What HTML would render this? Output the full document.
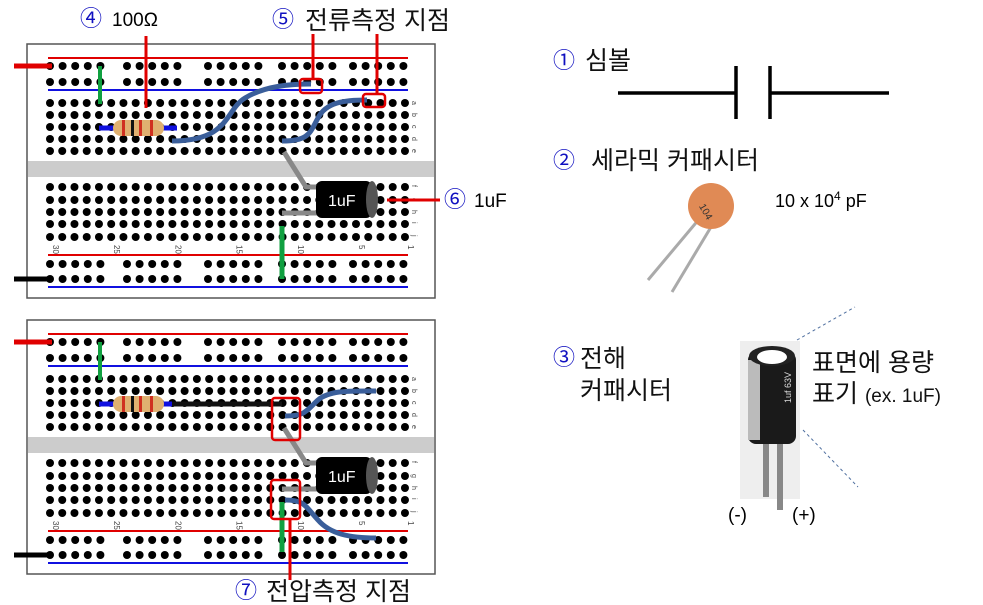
<!DOCTYPE html>
<html><head><meta charset="utf-8"><style>
body{margin:0;background:#fff;width:983px;height:605px;overflow:hidden}
svg{display:block}
text{font-family:"Liberation Sans","Noto Sans CJK KR",sans-serif}
.k{font-size:25px;fill:#111}
.c{fill:#1010c0;font-size:22px}
</style></head><body>
<svg id="s" width="983" height="605" viewBox="0 0 983 605">
<g id="boards"></g>
<text x="80" y="26" class="c" font-size="20">④</text>
<text x="112" y="26" font-size="19">100Ω</text>
<line x1="146" y1="36" x2="146" y2="108" stroke="#e00000" stroke-width="3"/>
<text x="272" y="27" class="c">⑤</text>
<text x="305" y="29" class="k">전류측정 지점</text>
<line x1="313" y1="34" x2="313" y2="79" stroke="#e00000" stroke-width="3"/>
<line x1="377" y1="34" x2="377" y2="94" stroke="#e00000" stroke-width="3"/>
<line x1="387" y1="200" x2="440" y2="200" stroke="#e00000" stroke-width="3"/>
<text x="444" y="207" class="c" font-size="20">⑥</text>
<text x="474" y="207" font-size="19">1uF</text>
<line x1="290" y1="519" x2="290" y2="580" stroke="#e00000" stroke-width="3"/>
<text x="235" y="598" class="c">⑦</text>
<text x="266" y="600" class="k">전압측정 지점</text>
<text x="553" y="68" class="c">①</text>
<text x="585" y="69" class="k">심볼</text>
<g stroke="#000" stroke-width="3.5">
<line x1="618" y1="93" x2="736" y2="93"/><line x1="736" y1="66" x2="736" y2="119"/>
<line x1="770" y1="66" x2="770" y2="119"/><line x1="770" y1="93" x2="889" y2="93"/></g>
<text x="553" y="168" class="c">②</text>
<text x="591" y="169" class="k">세라믹 커패시터</text>
<g>
<line x1="700" y1="218" x2="648" y2="280" stroke="#aaa" stroke-width="3"/>
<line x1="714" y1="222" x2="672" y2="292" stroke="#aaa" stroke-width="3"/>
<circle cx="711" cy="206" r="23" fill="#e08a55"/>
<text x="700" y="216" font-size="10" fill="#333" transform="rotate(60 708 210)">104</text></g>
<text x="775" y="207" font-size="18">10 x 10<tspan dy="-7" font-size="12">4</tspan><tspan dy="7"> pF</tspan></text>
<text x="553" y="365" class="c">③</text>
<text x="580" y="367" class="k">전해</text>
<text x="580" y="399" class="k">커패시터</text>
<g>
<rect x="740" y="341" width="60" height="158" fill="#eeeeee"/>
<rect x="763" y="440" width="6" height="57" fill="#888"/>
<rect x="777" y="440" width="6" height="70" fill="#888"/>
<rect x="748" y="352" width="48" height="92" rx="8" fill="#1a1a1a"/>
<rect x="748" y="360" width="12" height="80" fill="#bbb"/>
<ellipse cx="772" cy="356" rx="23" ry="10" fill="#222"/>
<ellipse cx="772" cy="357" rx="15" ry="7" fill="#fff"/>
<text x="780" y="418" font-size="9" fill="#ddd" transform="rotate(-90 778 405)">1uf 63V</text></g>
<line x1="797" y1="340" x2="855" y2="307" stroke="#5070a0" stroke-dasharray="3,3"/>
<line x1="803" y1="430" x2="858" y2="487" stroke="#5070a0" stroke-dasharray="3,3"/>
<text x="812" y="371" class="k">표면에 용량</text>
<text x="812" y="402" class="k">표기 <tspan font-size="19">(ex. 1uF)</tspan></text>
<text x="728" y="521" font-size="19">(-)</text>
<text x="792" y="521" font-size="19">(+)</text>
</svg>
<script>
const NS='http://www.w3.org/2000/svg';
const G=document.getElementById('boards');
function el(t,a,p){const e=document.createElementNS(NS,t);for(const k in a)e.setAttribute(k,a[k]);(p||G).appendChild(e);return e;}
const cx=c=>50+c*12.24;
const mainRows=[103,115,127,139,151,187,200,212,224,237];
const pwrStarts=[50,127,208,282,353];
const letters=['a','b','c','d','e','f','g','h','i','j'];
function board(o,v){
  const g=el('g',{});
  
  
  el('rect',{x:27,y:44+o,width:408,height:254,fill:'#fff',stroke:'#555','stroke-width':1.5},g);
  el('rect',{x:28,y:161+o,width:406,height:16,fill:'#cccccc'},g);
  [[58,'#e00000'],[90,'#1010e0'],[255,'#e00000'],[287,'#1010e0']].forEach(r=>el('line',{x1:48,x2:408,y1:r[0]+o,y2:r[0]+o,stroke:r[1],'stroke-width':2},g));
  mainRows.forEach((y,i)=>{for(let c=0;c<30;c++)el('circle',{cx:cx(c),cy:y+o,r:4,fill:'#000'},g);
    el('text',{x:413,y:y+o+3,'font-size':7,fill:'#444',transform:`rotate(90 415 ${y+o})`},g).textContent=letters[i];});
  [66,82,264,279].forEach(y=>pwrStarts.forEach(s=>{for(let k=0;k<5;k++)el('circle',{cx:s+k*12.6,cy:y+o,r:4,fill:'#000'},g);}));
  [[0,'30'],[5,'25'],[10,'20'],[15,'15'],[20,'10'],[25,'5'],[29,'1']].forEach(n=>{
    el('text',{x:cx(n[0])-3,y:245+o,'font-size':8,fill:'#444',transform:`rotate(90 ${cx(n[0])} ${248+o})`},g).textContent=n[1];});
  el('line',{x1:14,x2:52,y1:66+o,y2:66+o,stroke:'#e00000','stroke-width':5},g);
  el('line',{x1:14,x2:52,y1:279+o,y2:279+o,stroke:'#000','stroke-width':5},g);
  el('line',{x1:100,x2:100,y1:66+o,y2:104+o,stroke:'#10a040','stroke-width':4},g);
  el('line',{x1:99,x2:177,y1:128+o,y2:128+o,stroke:'#1010e0','stroke-width':5},g);
  el('rect',{x:113,y:120+o,width:51,height:16,rx:8,fill:'#e0b070'},g);
  [122,131,139,150].forEach((x,i)=>el('rect',{x:x,y:120+o,width:3,height:16,fill:i==1?'#111':'#d03020'},g));
  el('line',{x1:282,x2:282,y1:226+o,y2:(v==1?279:276)+o,stroke:'#10a040','stroke-width':5},g);
  el('polyline',{points:`284,${152+o} 306,${187+o} 320,${187+o}`,fill:'none',stroke:'#888','stroke-width':5},g);
  el('line',{x1:282,x2:318,y1:213+o,y2:213+o,stroke:'#888','stroke-width':5},g);
  el('rect',{x:316,y:181+o,width:56,height:37,rx:6,fill:'#000'},g);
  el('ellipse',{cx:372,cy:199.5+o,rx:6,ry:18.5,fill:'#555'},g);
  el('text',{x:328,y:206+o,'font-size':16,fill:'#fff'},g).textContent='1uF';
  return g;
}
const b1=board(0,1),b2=board(276,2);
function wire(g,d,c){const p=el('path',{d:d,fill:'none',stroke:c,'stroke-width':5,'stroke-linecap':'butt'},g);return p;}
function box(g,x,y,w,h){el('rect',{x:x,y:y,width:w,height:h,rx:3,fill:'none',stroke:'#e00000','stroke-width':2.5},g);}
wire(b1,'M172,141 C230,141 225,110 245,98 C265,86 290,84 311,84','#3a5e9a');
wire(b1,'M282,141 C310,141 310,132 318,118 C326,102 345,100 367,100','#3a5e9a');
box(b1,300,79,22,14); box(b1,363,94,22,13);
wire(b2,'M172,404 L282,404','#111');
wire(b2,'M285,416 C305,416 305,412 318,400 C330,390 350,391 376,391','#3a5e9a');
wire(b2,'M285,500 C305,500 305,506 318,520 C330,534 350,538 376,538','#3a5e9a');
box(b2,272,398,28,42); box(b2,271,480,29,39);
</script>
</body></html>
